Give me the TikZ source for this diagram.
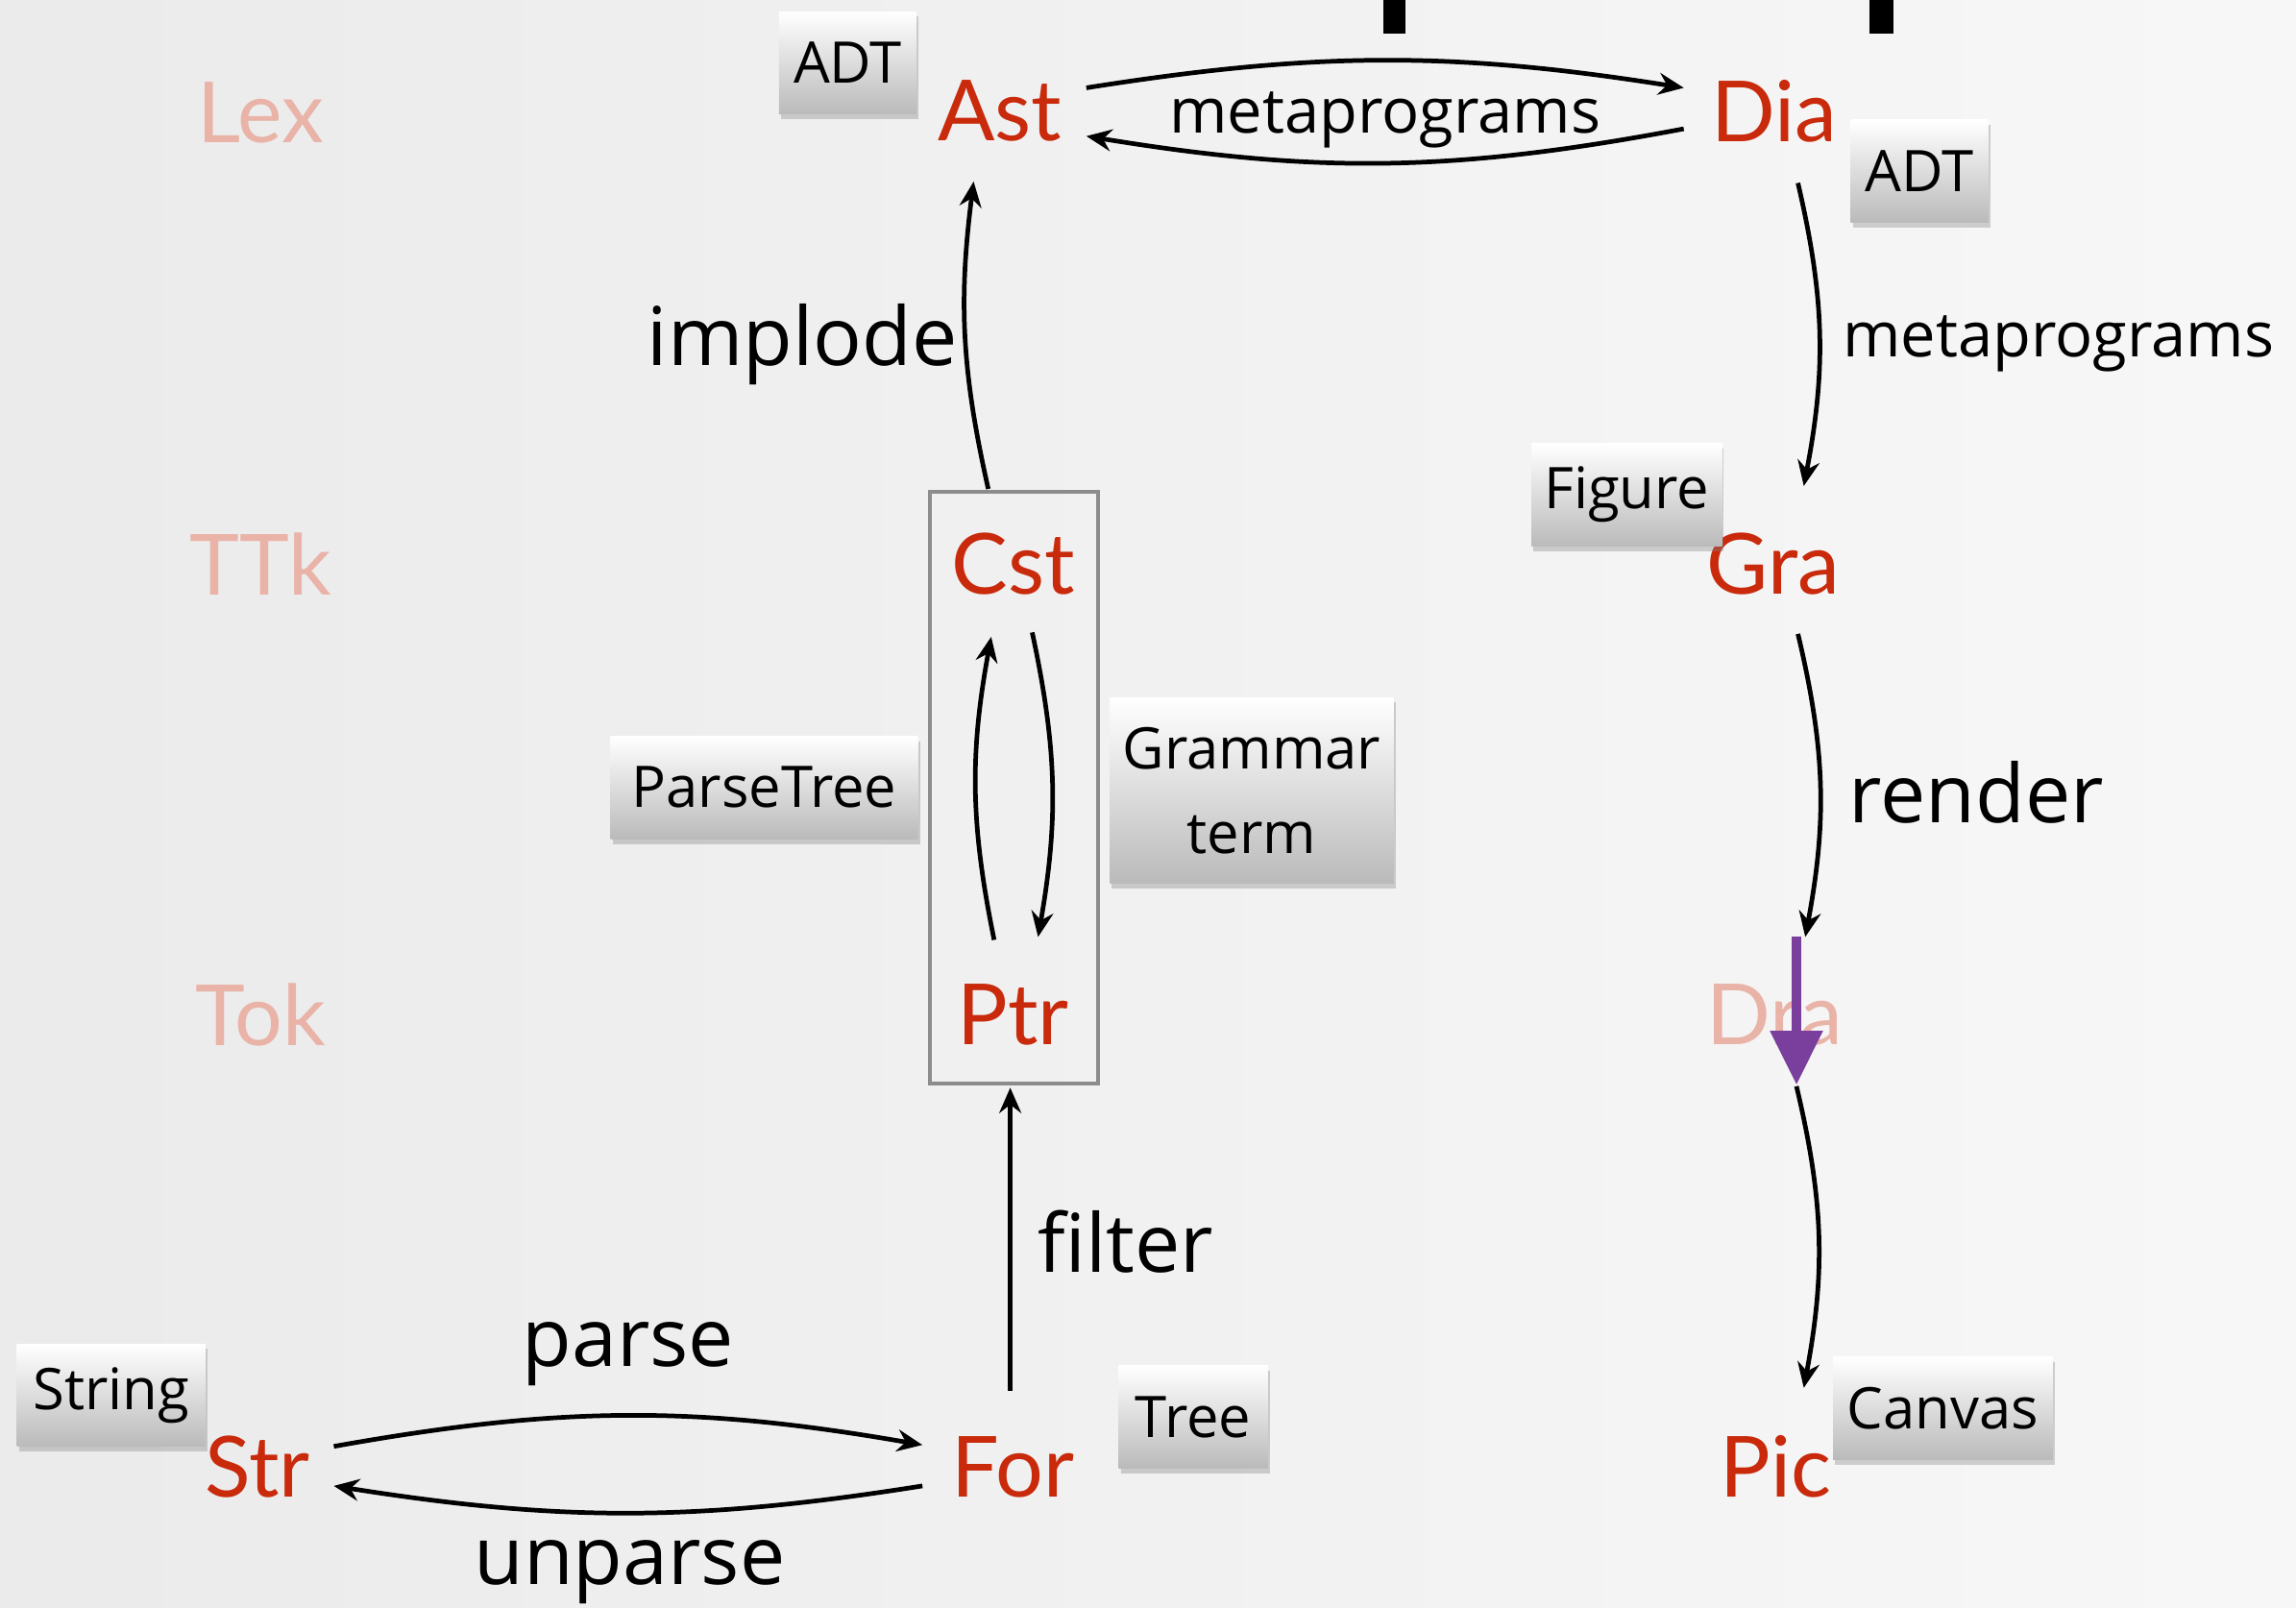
\documentclass[tikz,border=0pt]{standalone}
\usepackage{fontspec}
\setmainfont{Open Sans}
\newfontfamily\redfont{Lato}
\newfontfamily\handfont{Open Sans}
\usetikzlibrary{arrows.meta,calc,shadows}
\def\dpx{0.43362pt}
\definecolor{nodered}{HTML}{C92A0C}
\definecolor{fadered}{HTML}{E9B3A7}
\definecolor{purplearrow}{HTML}{7A3E9C}
\definecolor{boxedge}{HTML}{8C8C8C}
\tikzset{
 lvl/.style={font=\redfont\fontsize{25}{25}\selectfont, text=nodered, inner sep=0pt},
 faded/.style={lvl, text=fadered},
 lbl/.style={font=\handfont\fontsize{18.5}{20}\selectfont, inner sep=0pt},
 biglbl/.style={font=\handfont\fontsize{24}{26}\selectfont, inner sep=0pt},
 tagbox/.style={font=\handfont\fontsize{17}{25}\selectfont, top color=white, bottom color=black!27,
   drop shadow={shadow xshift=0.6pt, shadow yshift=-1.5pt, opacity=0.35},
   inner sep=0pt, align=center, minimum height=70*\dpx},
 arr/.style={-{Stealth[length=7.5pt,width=6.5pt,inset=2.5pt]}, line width=1.35pt, black},
}
\begin{document}
\begin{tikzpicture}[x=0.01524cm, y=-0.01524cm]
\useasboundingbox (0,0) rectangle (1568.2,1098.4);
\shade[left color=black!8, right color=black!3] (0,0) rectangle (1568.2,1098.4);
% black bars at top
\fill[black] (945,0) rectangle (960,23);
\fill[black] (1277,0) rectangle (1293,23);

% group box
\node[draw=boxedge, line width=1.1pt, minimum width=115*\dpx, minimum height=404*\dpx, inner sep=0pt] (stack) at (692.5,538) {};

% level labels
\node[faded] (lex) at (178,77) {Lex};
\node[faded] (ttk) at (178,385) {TTk};
\node[faded] (tok) at (178,693) {Tok};

% main nodes
\node[lvl] (ast) at (683,76) {Ast};
\node[lvl] (dia) at (1212,76) {Dia};
\node[lvl] (cst) at (692,385) {Cst};
\node[lvl] (gra) at (1211,385) {Gra};
\node[lvl] (ptr) at (692,693) {Ptr};
\node[faded] (dra) at (1212,693) {Dra};
\node[lvl] (str) at (176,1002) {Str};
\node[lvl] (for) at (692,1002) {For};
\node[lvl] (pic) at (1213,1002) {Pic};

% tag boxes
\node[tagbox, minimum width=94*\dpx] (adta) at (579,43) {ADT};
\node[tagbox, minimum width=94*\dpx] (adtb) at (1311,117) {ADT};
\node[tagbox, minimum width=130*\dpx] (figure) at (1111,338) {Figure};
\node[tagbox, minimum width=210*\dpx] (parsetree) at (522,538) {ParseTree};
\node[tagbox, minimum width=194*\dpx, minimum height=127*\dpx] (grammar) at (855,540) {Grammar\\term};
\node[tagbox, minimum width=129*\dpx] (string) at (76,953) {String};
\node[tagbox, minimum width=102*\dpx] (tree) at (815,968) {Tree};
\node[tagbox, minimum width=150*\dpx] (canvas) at (1327,962) {Canvas};

% connectors
\draw[arr] ($(ast)+(59,-16)$) to[bend left=9] ($(dia)+(-62,-16)$);
\draw[arr] ($(dia)+(-62,12)$) to[bend left=10] ($(ast)+(59,17)$);
\node[lbl] (mpa) at (946,82) {metaprograms};

\draw[arr] ($(cst)+(-17,-51)$) to[bend left=10] ($(ast)+(-18,48)$);
\node[biglbl] (implode) at (548,235) {implode};

\draw[arr] ($(dia)+(16,49)$) to[bend left=12] ($(gra)+(21,-53)$);
\node[lbl] (mpb) at (1406,235) {metaprograms};

\draw[arr] ($(ptr)+(-13,-51)$) to[bend left=11] ($(cst)+(-15,50)$);
\draw[arr] ($(cst)+(13,47)$) to[bend left=11] ($(ptr)+(17,-53)$);

\draw[arr] ($(gra)+(17,48)$) to[bend left=12] ($(dra)+(21,-53)$);
\node[biglbl] (render) at (1350,541) {render};

\draw[purplearrow, line width=2.8pt, -{Triangle[length=16pt,width=15pt]}] ($(dra)+(15,-53)$) -- ($(dra)+(15,48)$);

\draw[arr] ($(dra)+(15,49)$) to[bend left=12] ($(pic)+(19,-54)$);

\draw[arr] ($(for)+(-2,-52)$) -- ($(ptr)+(-2,50)$);
\node[biglbl] (filter) at (769,848) {filter};

\draw[arr] ($(str)+(52,-14)$) to[bend left=10] ($(for)+(-62,-15)$);
\draw[arr] ($(for)+(-62,13)$) to[bend left=9] ($(str)+(52,13)$);
\node[biglbl] (parse) at (429,925) {parse};
\node[biglbl] (unparse) at (430,1074) {unparse};
\end{tikzpicture}
\end{document}
